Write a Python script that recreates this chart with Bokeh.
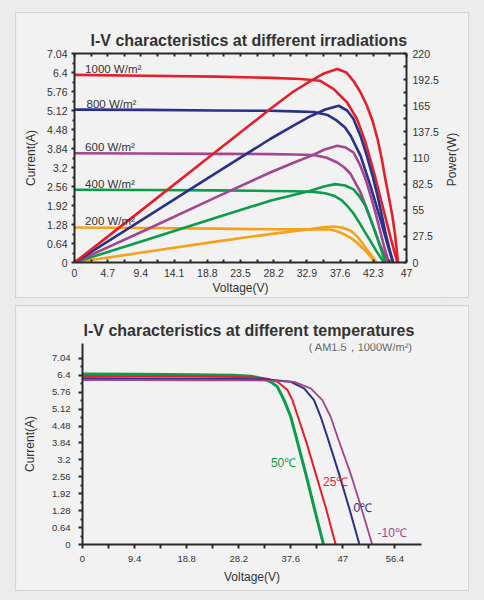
import math
from bokeh.plotting import figure
from bokeh.layouts import column, row
from bokeh.models import LinearAxis, Range1d, FixedTicker, Label, GlobalInlineStyleSheet, Spacer
from bokeh.core.properties import value
from bokeh.embed import file_html
from bokeh.resources import INLINE

# ---------------- data: irradiation chart ----------------
irr_names = ["1000 W/m²", "800 W/m²", "600 W/m²", "400 W/m²", "200 W/m²"]

iv1000_v = [0, 10, 20, 28, 32, 34.8, 36.7, 38.6, 40.0, 41.2, 42.4, 43.6, 44.8, 45.7]
iv1000_i = [6.32, 6.29, 6.26, 6.22, 6.18, 6.12, 5.84, 5.39, 4.83, 4.04, 3.03, 1.91, 0.79, 0]
pw1000_v = [0, 10, 20, 27.7, 31.0, 33.4, 35.3, 37.2, 38.5, 39.5, 40.5, 41.4, 42.2, 42.9, 43.5, 44.0, 44.5, 45.0, 45.4, 45.8]
pw1000_p = [0, 58, 116.5, 161.5, 180, 191, 199, 203.6, 200, 191, 179, 165, 149, 130, 109, 88, 69, 49, 28, 0]

iv800_v = [0, 10, 20, 27.7, 31, 33.9, 35.8, 37.2, 38.3, 39.1, 40.5, 41.9, 43.3, 44.5, 45.1]
iv800_i = [5.15, 5.14, 5.12, 5.11, 5.09, 5.07, 4.97, 4.77, 4.55, 4.27, 3.59, 2.58, 1.46, 0.45, 0]
pw800_v = [0, 10, 20, 27.7, 31, 33.4, 35.5, 37.4, 38.6, 39.5, 40.5, 41.4, 42.2, 42.9, 43.5, 44.0, 44.6, 45.1]
pw800_p = [0, 47, 94, 130, 144, 154, 161, 165, 160, 151, 133, 112, 91, 70, 50, 32, 14, 0]

iv600_v = [0, 10, 20, 27.7, 31, 33.9, 35.7, 37.2, 38.2, 39.1, 40.5, 41.9, 43.3, 44.4]
iv600_i = [3.68, 3.67, 3.66, 3.65, 3.64, 3.62, 3.53, 3.37, 3.2, 2.98, 2.36, 1.46, 0.56, 0]
pw600_v = [0, 10, 20, 27.7, 31, 33.4, 35.4, 37.2, 38.4, 39.5, 40.4, 41.2, 41.9, 42.6, 43.2, 43.8, 44.5]
pw600_p = [0, 34, 68.5, 94.7, 105, 112, 119, 122.8, 121, 115.8, 103, 87.8, 71, 52.6, 35, 17.6, 0]

iv400_v = [0, 10, 20, 27.7, 31, 33.9, 35.5, 36.7, 37.8, 38.6, 39.5, 40.3, 41.1, 41.9, 42.7, 43.3, 43.8]
iv400_i = [2.45, 2.44, 2.43, 2.41, 2.40, 2.38, 2.33, 2.25, 2.1, 1.91, 1.65, 1.35, 1.03, 0.72, 0.4, 0.18, 0]
pw400_v = [0, 10, 20, 27.7, 31, 33.4, 35.3, 36.9, 38.3, 39.5, 40.4, 41.2, 41.9, 42.6, 43.3, 44.0]
pw400_p = [0, 23.5, 47, 65, 71, 75.5, 80, 82.5, 81, 77, 69, 59.7, 46, 31.6, 16, 0]

iv200_v = [0, 10, 20, 27.7, 33, 36.2, 37.2, 38.1, 39.1, 40.0, 40.7, 41.4, 42.0, 42.6]
iv200_i = [1.18, 1.16, 1.14, 1.12, 1.115, 1.11, 1.05, 0.96, 0.83, 0.67, 0.5, 0.34, 0.17, 0]
pw200_v = [0, 10, 20, 27.7, 31, 33.4, 35.2, 36.7, 38.0, 39.1, 40.0, 40.7, 41.3, 41.9, 42.4, 42.75]
pw200_p = [0, 11, 22, 29.9, 33, 35.1, 37, 37.9, 36.5, 33.4, 27.5, 21, 14.5, 8.8, 3.8, 0]

volt_ticks_top = ["0", "4.7", "9.4", "14.1", "18.8", "23.5", "28.2", "32.9", "37.6", "42.3", "47"]
curr_ticks = ["0", "0.64", "1.28", "1.92", "2.56", "3.2", "3.84", "4.48", "5.12", "5.76", "6.4", "7.04"]
power_ticks = ["0", "27.5", "55", "82.5", "110", "137.5", "165", "192.5", "220"]

# ---------------- data: temperature chart ----------------
temp_names = ["50℃", "25℃", "0℃", "-10℃"]
t50_v = [0, 10, 20, 27.3, 30.5, 32.5, 34.0, 35.2, 36.4, 37.6, 38.4, 39.2, 40.3, 41.8, 43.5]
t50_i = [6.45, 6.44, 6.42, 6.40, 6.36, 6.28, 6.15, 5.96, 5.46, 4.83, 4.20, 3.56, 2.68, 1.41, 0]
t25_v = [0, 10, 20, 28, 31.0, 33.4, 35.2, 37.0, 37.9, 39.1, 40.4, 42.1, 43.9, 45.7]
t25_i = [6.37, 6.36, 6.35, 6.33, 6.31, 6.27, 6.15, 5.84, 5.46, 4.70, 3.88, 2.68, 1.41, 0]
t0_v = [0, 10, 20, 28, 33.4, 37.6, 40.0, 41.8, 43.0, 44.2, 46.3, 48.1, 50.0]
t0_i = [6.29, 6.28, 6.27, 6.26, 6.24, 6.15, 5.90, 5.46, 4.83, 4.07, 2.68, 1.41, 0]
tm10_v = [0, 10, 20, 28, 34, 38.2, 41.2, 43.3, 44.8, 46.1, 48.4, 50.3, 52.3]
tm10_i = [6.22, 6.22, 6.21, 6.21, 6.2, 6.15, 5.90, 5.46, 4.83, 4.03, 2.68, 1.41, 0]

volt_ticks_bot = ["0", "9.4", "18.8", "28.2", "37.6", "47", "56.4"]

# ---------------- styles ----------------
RED, BLUE, PURPLE, GREEN, ORANGE = "#e51f2a", "#2b3088", "#a3458f", "#0c9c4b", "#f5a21b"
PANEL = "#f2f2f2"
PAGE = "#ececec"
INK = "#2a2a2a"
TXT = "#333333"
FONT = "Liberation Sans"
BORDER = {"outline": "1px solid #d4d4d4"}


def ticker(labels):
    vals = [float(s) for s in labels]
    mins = [(a + b) / 2 for a, b in zip(vals[:-1], vals[1:])]
    return FixedTicker(ticks=vals, minor_ticks=mins), {float(s): s for s in labels}


def style_axis(ax, labels, tin, tout, mtin, mtout, standoff, font_px):
    t, ov = ticker(labels)
    ax.ticker = t
    ax.major_label_overrides = ov
    ax.axis_line_width = 2
    ax.axis_line_color = INK
    ax.major_tick_line_width = 2
    ax.major_tick_line_color = INK
    ax.minor_tick_line_width = 2
    ax.minor_tick_line_color = INK
    ax.major_tick_in = tin
    ax.major_tick_out = tout
    ax.minor_tick_in = mtin
    ax.minor_tick_out = mtout
    ax.major_label_standoff = standoff
    ax.major_label_text_font = FONT
    ax.major_label_text_font_size = font_px
    ax.major_label_text_color = TXT
    ax.axis_label_text_font = FONT
    ax.axis_label_text_font_size = "12px"
    ax.axis_label_text_font_style = "normal"
    ax.axis_label_text_color = TXT


def style_title(t, text, offset):
    t.text = text
    t.align = "left"
    t.offset = offset
    t.text_font = FONT
    t.text_font_size = "16px"
    t.text_font_style = "bold"
    t.text_color = TXT


# ---------------- chart 1 ----------------
p1 = figure(frame_width=332, frame_height=209,
            min_border_left=58, min_border_right=36, min_border_top=40, min_border_bottom=35,
            x_range=Range1d(0, 47), y_range=Range1d(0, 7.04),
            output_backend="svg", toolbar_location=None,
            background_fill_color=PANEL, border_fill_color=PANEL)
p1.grid.visible = False
p1.outline_line_color = None
p1.extra_y_ranges = {"power": Range1d(0, 220)}

style_axis(p1.xaxis[0], volt_ticks_top, 3, 0, 3, 0, 6, "10.5px")
p1.xaxis[0].axis_label = "Voltage(V)"
p1.xaxis[0].axis_label_standoff = 1
style_axis(p1.yaxis[0], curr_ticks, 0, 3, 0, 2, 4, "10.5px")
p1.yaxis[0].axis_label = "Current(A)"
p1.yaxis[0].axis_label_standoff = 6

ax_r = LinearAxis(y_range_name="power")
style_axis(ax_r, power_ticks, 3, 0, 3, 0, 6, "10.5px")
p1.add_layout(ax_r, "right")

ax_t = LinearAxis()
style_axis(ax_t, volt_ticks_top, 3, 0, 3, 0, 0, "0px")
ax_t.major_label_text_alpha = 0
p1.add_layout(ax_t, "above")

style_title(p1.title, "I-V characteristics at different irradiations", 16)

irr_iv = [(iv1000_v, iv1000_i, RED), (iv800_v, iv800_i, BLUE), (iv600_v, iv600_i, PURPLE),
          (iv400_v, iv400_i, GREEN), (iv200_v, iv200_i, ORANGE)]
irr_pw = [(pw1000_v, pw1000_p, RED), (pw800_v, pw800_p, BLUE), (pw600_v, pw600_p, PURPLE),
          (pw400_v, pw400_p, GREEN), (pw200_v, pw200_p, ORANGE)]
for v, i, c in irr_iv[::-1]:
    p1.line(v, i, line_color=c, line_width=2.6, line_join="round")
for v, pw, c in irr_pw[::-1]:
    p1.line(v, pw, line_color=c, line_width=2.6, line_join="round", y_range_name="power")

label_pos = [(1.5, 6.52), (1.7, 5.35), (1.5, 3.9), (1.5, 2.63), (1.5, 1.4)]
for name, (lx, ly) in zip(irr_names, label_pos):
    p1.add_layout(Label(x=lx, y=ly, text=name, text_font=FONT, text_font_size="11.5px",
                        text_color=TXT, text_baseline="middle", text_align="left"))

# narrow strip carrying the right-hand axis title (reads bottom to top)
p1r = figure(width=26, height=p1.frame_height + 75, min_border=0,
             x_range=Range1d(0, 1), y_range=Range1d(0, 1),
             x_axis_location=None, y_axis_location=None,
             output_backend="svg", toolbar_location=None,
             background_fill_color=PANEL, border_fill_color=PANEL)
p1r.grid.visible = False
p1r.outline_line_color = None
p1r.text(x=[0.38], y=[0.493], text=["Power(W)"], angle=math.pi / 2,
         text_font=value(FONT), text_font_size="12px", text_color=TXT,
         text_align="center", text_baseline="middle")

# ---------------- chart 2 ----------------
p2 = figure(frame_width=339, frame_height=201,
            min_border_left=66, min_border_right=47, min_border_top=37, min_border_bottom=46,
            x_range=Range1d(0, 61.2), y_range=Range1d(0, 7.6),
            output_backend="svg", toolbar_location=None,
            background_fill_color=PANEL, border_fill_color=PANEL)
p2.styles = BORDER
p2.grid.visible = False
p2.outline_line_color = None

style_axis(p2.xaxis[0], volt_ticks_bot, 0, 4, 0, 4, 7, "9.5px")
p2.xaxis[0].axis_label = "Voltage(V)"
p2.xaxis[0].axis_label_standoff = 5
style_axis(p2.yaxis[0], curr_ticks, 0, 4, 0, 2, 8, "9.5px")
p2.yaxis[0].axis_label = "Current(A)"
p2.yaxis[0].axis_label_standoff = 12

style_title(p2.title, "I-V characteristics at different temperatures", 1)

temp_curves = [(t50_v, t50_i, GREEN, 3.0), (t25_v, t25_i, RED, 2.0),
               (t0_v, t0_i, BLUE, 2.0), (tm10_v, tm10_i, PURPLE, 1.8)]
for v, i, c, w in temp_curves:
    p2.line(v, i, line_color=c, line_width=w, line_join="round")

temp_pos = [(36.3, 3.08), (45.7, 2.36), (50.6, 1.38), (55.9, 0.44)]
temp_cols = [GREEN, RED, BLUE, PURPLE]
for name, (lx, ly), c in zip(temp_names, temp_pos, temp_cols):
    p2.add_layout(Label(x=lx, y=ly, text=name, text_font=FONT, text_font_size="12px",
                        text_color=c, text_baseline="middle", text_align="center"))

p2.add_layout(Label(x=59.6, y=7.48, text="( AM1.5，1000W/m²)", text_font=FONT,
                    text_font_size="11px", text_color="#666666",
                    text_baseline="middle", text_align="right"))

css = "html, body { margin: 0 !important; padding: 0 !important; background-color: %s; }" % PAGE
root = column(Spacer(height=13),
              row(Spacer(width=16), row(p1, p1r, spacing=0, styles=BORDER)),
              Spacer(height=9),
              row(Spacer(width=16), p2),
              stylesheets=[GlobalInlineStyleSheet(css=css)])

open("out.html", "w").write(file_html(root, INLINE))
